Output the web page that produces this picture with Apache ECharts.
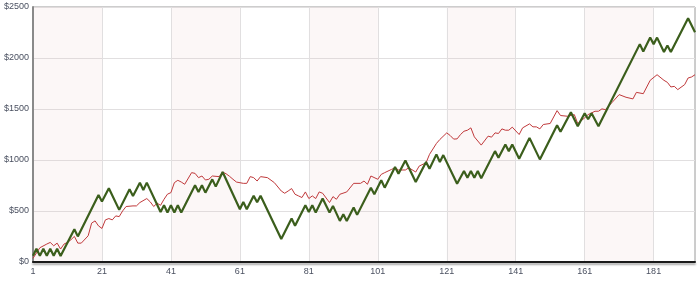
<!DOCTYPE html>
<html>
<head>
<meta charset="utf-8">
<script src="https://cdn.jsdelivr.net/npm/echarts@6/dist/echarts.min.js"></script>
<style>
  html, body { margin: 0; padding: 0; background: #fff; }
  #chart { width: 700px; height: 281px; }
</style>
</head>
<body>
<div id="chart"></div>
<script>
// x categories 1..193, label every 20th
const pointCount = 193
const categories = []
for (let i = 1; i <= pointCount; i++) categories.push(String(i))
const xLabelEvery = 20

// y ticks
const yMin = 0
const yMax = 2500
const yStep = 500

// green line: read at its corners
const greenX = [1, 2, 3, 4, 5, 6, 7, 8, 9, 13, 14, 20, 21, 23, 26, 29, 30, 32, 33, 34,
  38, 39, 40, 41, 42, 43, 44, 48, 49, 50, 51, 53, 54, 56, 61, 62, 63, 65, 66, 67,
  73, 76, 77, 80, 81, 82, 83, 85, 87, 88, 90, 91, 92, 94, 95, 99, 100, 102, 103, 106,
  107, 109, 112, 115, 116, 118, 119, 120, 124, 126, 127, 128, 129, 130, 131, 135, 136, 138, 139, 140,
  142, 145, 148, 153, 154, 157, 159, 161, 162, 163, 165, 177, 178, 180, 181, 182, 184, 185, 186, 191, 193]
const greenY = [61, 130, 61, 130, 61, 130, 61, 130, 58, 322, 251, 657, 593, 723, 511, 713, 648, 778, 706, 778,
  491, 556, 485, 556, 485, 556, 485, 752, 687, 752, 680, 810, 739, 882, 518, 589, 518, 650, 586, 650,
  225, 426, 355, 557, 491, 557, 485, 622, 485, 550, 403, 469, 403, 534, 462, 729, 664, 801, 729, 931,
  866, 996, 784, 980, 915, 1055, 980, 1048, 768, 892, 827, 892, 827, 892, 820, 1087, 1022, 1152, 1087, 1152,
  1013, 1217, 1006, 1341, 1276, 1468, 1331, 1458, 1400, 1458, 1331, 2136, 2064, 2200, 2136, 2200, 2058, 2123, 2058, 2389, 2253]

// red line
const redX = [1, 2, 3, 5, 6, 7, 8, 9, 10, 11, 12, 13, 14, 15, 17, 18, 19, 20, 21, 22,
  23, 24, 25, 26, 27, 28, 30, 31, 32, 34, 35, 36, 37, 38, 39, 40, 41, 42, 43, 44,
  45, 47, 48, 49, 50, 51, 52, 53, 55, 56, 57, 58, 59, 60, 62, 63, 64, 65, 66, 67,
  69, 71, 73, 74, 75, 76, 77, 78, 79, 80, 81, 82, 83, 84, 85, 87, 88, 89, 90, 92,
  94, 96, 97, 98, 99, 101, 102, 103, 105, 106, 107, 109, 110, 112, 113, 115, 116, 118, 119, 121,
  122, 123, 124, 125, 126, 127, 128, 129, 131, 133, 134, 135, 136, 137, 138, 139, 140, 142, 143, 145,
  146, 147, 148, 149, 151, 153, 154, 156, 158, 159, 161, 162, 164, 165, 166, 167, 169, 171, 173, 175,
  176, 178, 180, 182, 184, 185, 186, 187, 188, 190, 191, 192, 193]
const redY = [36, 88, 140, 176, 192, 159, 185, 127, 176, 192, 218, 251, 185, 185, 257, 381, 403, 354, 329, 413,
  426, 413, 452, 445, 501, 544, 550, 550, 583, 622, 590, 544, 576, 556, 615, 665, 680, 778, 801, 784,
  762, 876, 869, 827, 843, 804, 811, 843, 837, 882, 865, 840, 811, 784, 771, 771, 837, 827, 794, 837,
  827, 778, 696, 674, 696, 720, 664, 648, 632, 687, 622, 648, 622, 687, 674, 583, 641, 615, 664, 687,
  771, 771, 794, 762, 843, 811, 859, 876, 908, 924, 902, 902, 924, 882, 940, 973, 1055, 1162, 1201, 1266,
  1240, 1205, 1207, 1250, 1282, 1292, 1315, 1227, 1146, 1234, 1224, 1266, 1260, 1305, 1292, 1292, 1322, 1250, 1315, 1354,
  1325, 1325, 1305, 1348, 1358, 1484, 1436, 1429, 1445, 1357, 1413, 1445, 1478, 1478, 1501, 1494, 1566, 1641, 1615, 1599,
  1663, 1650, 1781, 1836, 1781, 1761, 1716, 1722, 1690, 1739, 1804, 1814, 1836]

function pairs(xs, ys) {
  return xs.map((x, i) => [String(x), ys[i]])
}

const chart = echarts.init(document.getElementById('chart'))

let options = {
  animation: false,
  backgroundColor: '#fff',
  grid: {
    left: 33,
    right: 5,
    top: 7,
    bottom: 19,
    outerBoundsMode: 'none',
    containLabel: false,
    show: true,
    borderColor: '#9a9a9a',
    borderWidth: 1,
  },
  xAxis: {
    type: 'category',
    data: categories,
    boundaryGap: false,
    axisLine: {
      show: true,
      lineStyle: {
        color: '#1a1a1a',
        width: 2,
        shadowColor: 'rgba(0,0,0,0.35)',
        shadowOffsetY: 2,
        shadowBlur: 2,
      },
    },
    axisTick: { show: false },
    axisLabel: {
      interval: xLabelEvery - 1,
      color: '#4a5060',
      fontFamily: 'Liberation Sans',
      fontSize: 9,
      margin: 5,
    },
    splitLine: {
      show: true,
      interval: xLabelEvery - 1,
      lineStyle: { color: '#e1dfe0', width: 1 },
    },
    splitArea: {
      show: true,
      interval: xLabelEvery - 1,
      areaStyle: { color: ['rgba(235,190,190,0.13)', 'rgba(255,255,255,0)'] },
    },
  },
  yAxis: {
    type: 'value',
    min: yMin,
    max: yMax,
    interval: yStep,
    axisLine: {
      show: true,
      lineStyle: { color: '#8a8a8a', width: 2 },
    },
    axisTick: { show: false },
    axisLabel: {
      formatter: (v) => '$' + v,
      color: '#4a5060',
      fontFamily: 'Liberation Sans',
      fontSize: 9,
      margin: 4,
    },
    splitLine: {
      show: true,
      lineStyle: { color: '#e1dfe0', width: 1 },
    },
  },
  series: [
    {
      name: 'red',
      type: 'line',
      data: pairs(redX, redY),
      showSymbol: false,
      symbol: 'none',
      lineStyle: { color: '#c0393b', width: 1 },
      z: 2,
    },
    {
      name: 'green',
      type: 'line',
      data: pairs(greenX, greenY),
      showSymbol: false,
      symbol: 'none',
      lineStyle: { color: '#3b5e1c', width: 2.2 },
      z: 3,
    },
  ],
}
options && chart.setOption(options)
</script>
</body>
</html>
